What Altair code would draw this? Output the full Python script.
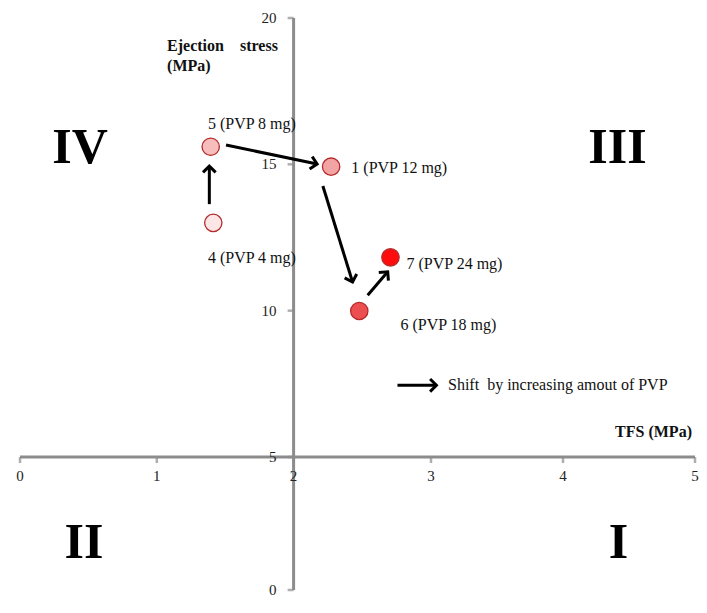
import math
import altair as alt
import pandas as pd

# ---------------- data ----------------
ids = ["4", "5", "1", "6", "7"]
pvp_mg = [4, 8, 12, 18, 24]
tfs = [1.413, 1.394, 2.273, 2.478, 2.705]
ejection = [13.00, 15.60, 14.92, 9.99, 11.82]
fills = ["#fde6e6", "#f7bcbc", "#f2a3a3", "#ec4f4f", "#ff0d0d"]

label_text = ["4 (PVP 4 mg)", "5 (PVP 8 mg)", "1 (PVP 12 mg)", "6 (PVP 18 mg)", "7 (PVP 24 mg)"]
label_x = [1.374, 1.374, 2.420, 2.778, 2.822]
label_y = [11.79, 16.38, 14.87, 9.50, 11.59]

# arrows (start -> tip), in data units
arr_x1 = [1.384, 1.506, 2.213, 2.539, 2.756]
arr_y1 = [13.64, 15.66, 14.26, 10.53, 7.45]
arr_x2 = [1.384, 2.171, 2.429, 2.685, 3.041]
arr_y2 = [14.94, 15.01, 10.98, 11.33, 7.45]

x_ticks = [0, 1, 2, 3, 4, 5]
y_ticks = [0, 5, 10, 15, 20]

quad_text = ["IV", "III", "II", "I"]
quad_x = [0.439, 4.413, 0.468, 4.420]
quad_y = [15.04, 15.04, 1.19, 1.19]

# ---------------- layout ----------------
W, H = 675, 572
PAD = {"left": 12, "top": 10, "right": 4, "bottom": 7}
X_DOM, X_RNG = [0, 2, 3, 5], [0, 273.6, 411, 675]
Y_DOM, Y_RNG = [0, 5, 20], [572, 439, 0]
X_CROSS, Y_CROSS = 2, 5
FONT = "Liberation Serif"
AXIS_COLOR = "#8c8c8c"
TXT = 16

xs = alt.Scale(domain=X_DOM, range=X_RNG, nice=False, zero=False)
ys = alt.Scale(domain=Y_DOM, range=Y_RNG, nice=False, zero=False)


def ex(field="x"):
    return alt.X(f"{field}:Q", scale=xs, axis=None)


def ey(field="y"):
    return alt.Y(f"{field}:Q", scale=ys, axis=None)


def interp(v, dom, rng):
    for i in range(len(dom) - 1):
        if v <= dom[i + 1] or i == len(dom) - 2:
            t = (v - dom[i]) / (dom[i + 1] - dom[i])
            return rng[i] + t * (rng[i + 1] - rng[i])


# axis lines
axis_df = pd.DataFrame({"x": [X_DOM[0], X_CROSS], "x2": [X_DOM[-1], X_CROSS],
                        "y": [Y_CROSS, Y_DOM[0]], "y2": [Y_CROSS, Y_DOM[-1]]})
axis_lines = alt.Chart(axis_df).mark_rule(color=AXIS_COLOR, strokeWidth=3).encode(
    x=ex(), x2="x2:Q", y=ey(), y2="y2:Q")

xt_df = pd.DataFrame({"x": x_ticks, "y": [Y_CROSS] * len(x_ticks),
                      "t": [str(v) for v in x_ticks]})
yt_df = pd.DataFrame({"x": [X_CROSS] * len(y_ticks), "y": y_ticks,
                      "t": [str(v) for v in y_ticks]})

x_tick_marks = alt.Chart(xt_df).mark_tick(orient="vertical", size=6, thickness=2.5,
                                          color=AXIS_COLOR, yOffset=3).encode(x=ex(), y=ey())
y_tick_marks = alt.Chart(yt_df).mark_tick(orient="horizontal", size=6, thickness=2.5,
                                          color=AXIS_COLOR, xOffset=-3).encode(x=ex(), y=ey())
x_tick_labels = alt.Chart(xt_df).mark_text(font=FONT, fontSize=15, color="#222222",
                                           dy=19, baseline="middle", align="center").encode(
    x=ex(), y=ey(), text="t:N")
y_tick_labels = alt.Chart(yt_df).mark_text(font=FONT, fontSize=15, color="#222222",
                                           dx=-17, baseline="middle", align="right").encode(
    x=ex(), y=ey(), text="t:N")

# arrows
angles = []
for a1, b1, a2, b2 in zip(arr_x1, arr_y1, arr_x2, arr_y2):
    dx = interp(a2, X_DOM, X_RNG) - interp(a1, X_DOM, X_RNG)
    dy = interp(b2, Y_DOM, Y_RNG) - interp(b1, Y_DOM, Y_RNG)
    angles.append(math.degrees(math.atan2(dy, dx)) % 360)
arr_df = pd.DataFrame({"x": arr_x1, "y": arr_y1, "x2": arr_x2, "y2": arr_y2, "angle": angles})
shafts = alt.Chart(arr_df).mark_rule(color="black", strokeWidth=3).encode(
    x=ex(), y=ey(), x2="x2:Q", y2="y2:Q")
heads = alt.Chart(arr_df).mark_point(shape="M-1,-1L0,0L-1,1", filled=False, size=160,
                                     stroke="black", strokeWidth=3, opacity=1,
                                     strokeJoin="miter").encode(
    x=ex("x2"), y=ey("y2"), angle=alt.Angle("angle:Q", scale=None))

# points
pt_df = pd.DataFrame({"id": ids, "pvp": pvp_mg, "x": tfs, "y": ejection})
points = alt.Chart(pt_df).mark_point(shape="circle", filled=True, size=300, opacity=1,
                                     stroke="#b52a2a", strokeWidth=1.3).encode(
    x=ex(), y=ey(),
    fill=alt.Fill("id:N", scale=alt.Scale(domain=ids, range=fills), legend=None))

lab_df = pd.DataFrame({"t": label_text, "x": label_x, "y": label_y})
labels = alt.Chart(lab_df).mark_text(font=FONT, fontSize=TXT, color="#111111",
                                     align="left", baseline="middle").encode(
    x=ex(), y=ey(), text="t:N")

# annotations
legend_df = pd.DataFrame({"t": ["Shift\u00a0 by increasing amout of PVP"],
                          "x": [3.129], "y": [7.45]})
legend_text = alt.Chart(legend_df).mark_text(font=FONT, fontSize=TXT, color="#111111",
                                             align="left", baseline="middle").encode(
    x=ex(), y=ey(), text="t:N")

xtitle_df = pd.DataFrame({"t": ["TFS (MPa)"], "x": [4.977], "y": [5.85]})
xtitle = alt.Chart(xtitle_df).mark_text(font=FONT, fontSize=TXT, fontWeight="bold",
                                        color="#111111", align="right",
                                        baseline="middle").encode(x=ex(), y=ey(), text="t:N")

ytitle_df = pd.DataFrame({"t": ["Ejection\u00a0\u00a0\u00a0 stress", "(MPa)"],
                          "x": [1.075, 1.075], "y": [19.04, 18.36]})
ytitle = alt.Chart(ytitle_df).mark_text(font=FONT, fontSize=TXT, fontWeight="bold",
                                        color="#111111", align="left",
                                        baseline="middle").encode(x=ex(), y=ey(), text="t:N")

quad_df = pd.DataFrame({"t": quad_text, "x": quad_x, "y": quad_y})
quads = alt.Chart(quad_df).mark_text(font=FONT, fontSize=50, fontWeight="bold",
                                     color="black", align="center",
                                     baseline="alphabetic").encode(x=ex(), y=ey(), text="t:N")

chart = alt.layer(
    axis_lines, x_tick_marks, y_tick_marks, x_tick_labels, y_tick_labels,
    shafts, heads, points, labels, legend_text, xtitle, ytitle, quads
).properties(
    width=W, height=H,
    padding=PAD,
    autosize="none",
).configure_view(stroke=None)

chart.save("out.html", embed_options={"renderer": "svg", "actions": False})
